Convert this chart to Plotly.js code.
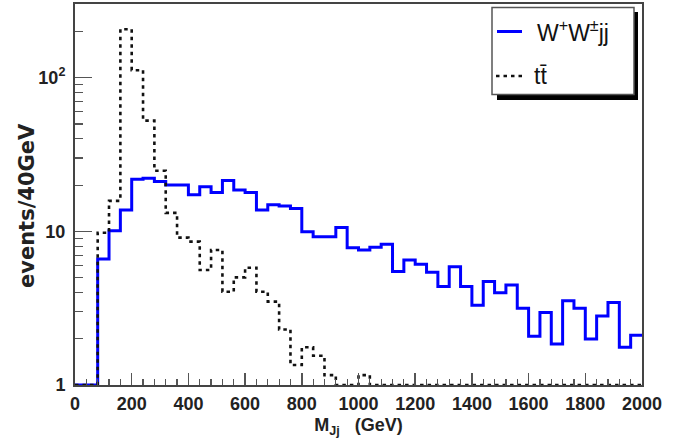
<!DOCTYPE html>
<html><head><meta charset="utf-8">
<script src="https://cdn.plot.ly/plotly-3.0.1.min.js"></script>
<style>html,body{margin:0;padding:0;background:#fff;} #chart{width:683px;height:448px;}</style>
</head><body><div id="chart"></div>
<script>
// ---- data (events per 40 GeV bin, 0..2000 GeV) ----
const binWidth = 40;
const binStart = 0;
const wwValues = [1, 1, 6.6, 10.1, 13.8, 21.8, 22.2, 21.1, 20.0, 20.0,
  17.3, 19.5, 17.9, 21.4, 18.6, 17.9, 13.8, 14.9, 14.6, 14.1,
  9.96, 9.24, 9.24, 10.6, 7.83, 7.57, 7.88, 8.24, 5.47, 6.51,
  6.1, 5.42, 4.37, 5.89, 4.37, 3.3, 4.71, 3.99, 4.48, 3.16,
  2.08, 2.96, 1.85, 3.54, 3.16, 1.99, 2.81, 3.44, 1.76, 2.11];
const ttValues = [1, 1, 9.8, 15.8, 207, 112, 52.6, 24.8, 13.2, 9.1,
  8.57, 5.6, 7.57, 4.05, 5.02, 5.8, 4.05, 3.49, 2.3, 1.35,
  1.76, 1.55, 1.16, 1, 1, 1.16, 1, 1, 1, 1,
  1, 1, 1, 1, 1, 1, 1, 1, 1, 1,
  1, 1, 1, 1, 1, 1, 1, 1, 1, 1];
const seriesNames = ['W<sup>+</sup>W<sup>\u00b1</sup>jj', 'tt\u0304'];
const yTickVals = [1, 10, 100];
const yTickText = ['1', '10', '10<sup>2</sup>'];
const xTitle = 'M<sub>Jj</sub>\u00a0\u00a0\u00a0(GeV)';
const yTitle = 'events/40GeV';

// ---- helpers ----
function edges(n) { const e = []; for (let i = 0; i <= n; i++) e.push(binStart + i * binWidth); return e; }
function stepY(v) { return v.concat([v[v.length - 1]]); }
const minorY = [];
for (let d = 1; d <= 100; d *= 10) for (let k = 2; k <= 9; k++) minorY.push(k * d);

const W = 683, H = 448, ML = 75, MR = 41, MT = 4, MB = 63;
const PW = W - ML - MR, PH = H - MT - MB;
const px = x => (x - ML) / PW;
const py = y => (H - MB - y) / PH;

const traces = [
  { x: edges(wwValues.length), y: stepY(wwValues), type: 'scatter', mode: 'lines',
    line: { shape: 'hv', color: '#0000ff', width: 3 }, name: seriesNames[0], showlegend: false },
  { x: edges(ttValues.length), y: stepY(ttValues), type: 'scatter', mode: 'lines',
    line: { shape: 'hv', color: '#111111', width: 2.6, dash: '3.5px,4px' }, name: seriesNames[1], showlegend: false }
];

const font = 'Liberation Sans, Arial, Helvetica, sans-serif';
const layout = {
  width: W, height: H,
  margin: { l: ML, r: MR, t: MT, b: MB, pad: 0 },
  paper_bgcolor: '#fff', plot_bgcolor: '#fff',
  font: { family: font, color: '#222' },
  showlegend: false,
  xaxis: {
    range: [0, 2000], tickmode: 'linear', tick0: 0, dtick: 200,
    ticks: 'inside', ticklen: 12, tickwidth: 1.5, tickcolor: '#555',
    minor: { ticks: 'inside', ticklen: 6, tickwidth: 1.2, tickcolor: '#555', dtick: 40, showgrid: false },
    showgrid: false, zeroline: false,
    showline: true, linecolor: '#444', linewidth: 2, mirror: true,
    tickfont: { family: font, size: 18, weight: 'bold', color: '#222' },
    ticklabelstandoff: 1,
    title: { text: xTitle, font: { family: font, size: 18, weight: 'bold', color: '#222' }, standoff: 6 }
  },
  yaxis: {
    type: 'log', range: [0, Math.log10(302)],
    tickmode: 'array', tickvals: yTickVals, ticktext: yTickText,
    ticks: 'inside', ticklen: 17, tickwidth: 1.5, tickcolor: '#555',
    minor: { ticks: 'inside', ticklen: 8, tickwidth: 1.2, tickcolor: '#555', tickmode: 'array', tickvals: minorY, showgrid: false },
    showgrid: false, zeroline: false,
    showline: true, linecolor: '#444', linewidth: 2, mirror: true,
    tickfont: { family: font, size: 18, weight: 'bold', color: '#222' },
    ticklabelstandoff: 4,
    title: { text: '' }
  },
  shapes: [
    // legend shadow
    { type: 'rect', xref: 'paper', yref: 'paper', x0: px(497), x1: px(638), y0: py(12), y1: py(100),
      fillcolor: '#000', line: { width: 0 }, layer: 'above' },
    // legend box
    { type: 'rect', xref: 'paper', yref: 'paper', x0: px(492), x1: px(634), y0: py(7.5), y1: py(94.5),
      fillcolor: '#fff', line: { width: 1.5, color: '#555' }, layer: 'above' },
    // legend samples
    { type: 'line', xref: 'paper', yref: 'paper', x0: px(497), x1: px(522), y0: py(31.5), y1: py(31.5),
      line: { color: '#0000ff', width: 3 }, layer: 'above' },
    { type: 'line', xref: 'paper', yref: 'paper', x0: px(496), x1: px(523), y0: py(76), y1: py(76),
      line: { color: '#111', width: 2.6, dash: '3.5px,4px' }, layer: 'above' }
  ],
  annotations: [
    // y-axis title
    { xref: 'paper', yref: 'paper', x: px(27), y: py(206), xanchor: 'center', yanchor: 'middle',
      textangle: -90, text: yTitle, showarrow: false,
      font: { family: 'DejaVu Sans, sans-serif', size: 21, weight: 'bold', color: '#222' } },
    // legend texts
    { xref: 'paper', yref: 'paper', x: px(535), y: py(31), xanchor: 'left', yanchor: 'middle',
      text: seriesNames[0], showarrow: false, font: { family: font, size: 23, color: '#111' } },
    { xref: 'paper', yref: 'paper', x: px(532), y: py(76), xanchor: 'left', yanchor: 'middle',
      text: seriesNames[1], showarrow: false, font: { family: font, size: 23, color: '#111' } }
  ]
};

Plotly.newPlot('chart', traces, layout, { displayModeBar: false, staticPlot: true });
</script></body></html>
